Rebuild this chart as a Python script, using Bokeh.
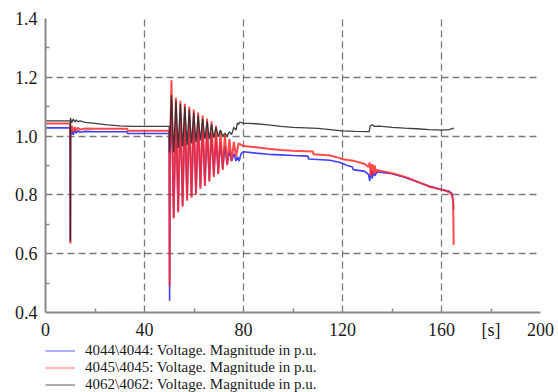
from bokeh.plotting import figure
from bokeh.layouts import column
from bokeh.models import FixedTicker, Legend, LegendItem, Range1d
from bokeh.embed import file_html
from bokeh.resources import INLINE

# ---- data ----
t_blue = [0, 10, 10.05, 10.1, 10.6, 11.2, 11.8, 12.4, 13.0, 14, 16, 20, 25, 33, 33.2, 40, 50, 50.15, 50.3,
          50.9, 51.8, 52.7, 53.6, 54.5, 55.4, 56.3, 57.2, 58.1, 59.0, 59.9, 60.8, 61.7, 62.6, 63.5, 64.4,
          65.3, 66.2, 67.1, 68.0, 68.9, 69.8, 70.7, 71.6, 72.5, 73.4, 74.3, 75.2, 76.1, 77.0,
          77.6, 78.2, 79, 80, 85, 90, 95, 100, 106, 106.3, 115, 119, 120, 122, 124, 124.3, 129, 130.5,
          131, 131.5, 132, 132.5, 133, 134, 135, 140, 145, 150, 155, 160, 163, 164.2, 164.7, 164.9]
v_blue = [1.028, 1.028, 0.64, 1.0, 1.02, 1.005, 1.02, 1.01, 1.018, 1.013, 1.016, 1.015, 1.015, 1.015, 1.009, 1.009, 1.009, 0.44, 0.90,
          1.12, 0.725, 1.09, 0.745, 1.08, 0.765, 1.07, 0.785, 1.06, 0.795, 1.05, 0.805, 1.04, 0.825, 1.03, 0.835,
          1.02, 0.85, 1.01, 0.865, 0.995, 0.875, 0.98, 0.89, 0.965, 0.905, 0.95, 0.915, 0.94, 0.915,
          0.93, 0.915, 0.94, 0.947, 0.942, 0.938, 0.936, 0.934, 0.932, 0.922, 0.918, 0.91, 0.907, 0.90, 0.895, 0.886, 0.88, 0.87,
          0.848, 0.885, 0.855, 0.88, 0.865, 0.878, 0.877, 0.872, 0.86, 0.845, 0.83, 0.818, 0.813, 0.805, 0.78, 0.75]

t_red = [0, 10, 10.05, 10.1, 10.6, 11.2, 11.8, 12.4, 13.0, 14, 16, 20, 25, 33, 33.2, 40, 50, 50.15, 50.3,
         50.9, 51.8, 52.7, 53.6, 54.5, 55.4, 56.3, 57.2, 58.1, 59.0, 59.9, 60.8, 61.7, 62.6, 63.5, 64.4,
         65.3, 66.2, 67.1, 68.0, 68.9, 69.8, 70.7, 71.6, 72.5, 73.4, 74.3, 75.2, 76.1, 77.0,
         78, 80, 85, 90, 95, 100, 108, 108.3, 115, 119, 120, 125, 129, 130.5, 131, 131.5, 132, 132.5,
         133, 133.5, 134, 135, 140, 145, 150, 155, 160, 163, 164.2, 164.7, 164.9]
v_red = [1.043, 1.043, 0.635, 1.005, 1.035, 1.015, 1.03, 1.02, 1.028, 1.022, 1.026, 1.025, 1.025, 1.025, 1.018, 1.018, 1.018, 0.49, 0.95,
         1.19, 0.72, 1.13, 0.74, 1.12, 0.76, 1.11, 0.78, 1.10, 0.79, 1.09, 0.80, 1.08, 0.82, 1.07, 0.83,
         1.06, 0.845, 1.05, 0.86, 1.035, 0.87, 1.02, 0.885, 1.005, 0.90, 0.99, 0.915, 0.98, 0.93,
         0.975, 0.966, 0.962, 0.957, 0.953, 0.95, 0.948, 0.938, 0.934, 0.925, 0.921, 0.915, 0.905, 0.895, 0.91, 0.865, 0.905, 0.87,
         0.90, 0.875, 0.885, 0.882, 0.874, 0.862, 0.846, 0.828, 0.818, 0.81, 0.80, 0.78, 0.63]

t_black = [0, 10, 10.05, 10.1, 10.6, 11.2, 11.8, 12.4, 13.0, 14, 16, 20, 25, 30, 35, 50, 50.1,
           50.9, 51.8, 52.7, 53.6, 54.5, 55.4, 56.3, 57.2, 58.1, 59.0, 59.9, 60.8, 61.7, 62.6, 63.5, 64.4,
           65.3, 66.2, 67.1, 68.0, 68.9, 69.8, 70.7, 71.6, 72.5, 73.4, 74.3, 75.2, 76.1, 77.0,
           77.5, 78, 78.5, 80, 82, 85, 90, 95, 100, 105, 110, 115, 120, 125, 130, 130.8, 131.2, 132, 133,
           135, 140, 145, 150, 155, 160, 163, 165]
v_black = [1.052, 1.052, 0.645, 1.062, 1.045, 1.058, 1.048, 1.055, 1.049, 1.052, 1.047, 1.043, 1.038, 1.035, 1.033, 1.033, 0.945,
           1.14, 0.945, 1.12, 0.96, 1.11, 0.965, 1.10, 0.97, 1.09, 0.975, 1.08, 0.98, 1.07, 0.985, 1.06, 0.99,
           1.05, 0.99, 1.04, 0.995, 1.03, 0.998, 1.02, 1.0, 1.01, 1.0, 1.015, 1.005, 1.03, 1.02,
           1.045, 1.04, 1.048, 1.043, 1.043, 1.042, 1.038, 1.033, 1.03, 1.028, 1.026, 1.022, 1.018, 1.016, 1.015, 1.015, 1.035, 1.038, 1.033,
           1.034, 1.03, 1.027, 1.025, 1.022, 1.02, 1.022, 1.027]

labels = ["4044\\4044: Voltage. Magnitude in p.u.",
          "4045\\4045: Voltage. Magnitude in p.u.",
          "4062\\4062: Voltage. Magnitude in p.u."]

x_ticks = [0, 40, 80, 120, 160, 180, 200]
x_tick_labels = ["0", "40", "80", "120", "160", "[s]", "200"]
y_ticks = [0.4, 0.6, 0.8, 1.0, 1.2, 1.4]
y_tick_labels = ["0.4", "0.6", "0.8", "1.0", "1.2", "1.4"]

FONT = "'Liberation Serif', serif"

p = figure(frame_width=495, frame_height=294,
           x_range=Range1d(0, 200), y_range=Range1d(0.4, 1.4),
           output_backend="svg", toolbar_location=None,
           min_border_left=45, min_border_right=18, min_border_top=18, min_border_bottom=0)
p.outline_line_color = None
p.background_fill_color = "white"
p.border_fill_color = "white"

# grid
for g, ticks in ((p.xgrid, [40, 80, 120, 160, 200]), (p.ygrid, [0.6, 0.8, 1.0, 1.2, 1.4])):
    g.ticker = FixedTicker(ticks=ticks)
    g.grid_line_color = "#7a7a7a"
    g.grid_line_width = 1.3
    g.grid_line_dash = "7 4"

# axes
xa = p.xaxis[0]
xa.ticker = FixedTicker(ticks=x_ticks, minor_ticks=[20, 60, 100, 140, 180])
xa.major_label_overrides = {t: l for t, l in zip(x_ticks, x_tick_labels)}
ya = p.yaxis[0]
ya.ticker = FixedTicker(ticks=y_ticks, minor_ticks=[0.5, 0.7, 0.9, 1.1, 1.3])
ya.major_label_overrides = {t: l for t, l in zip(y_ticks, y_tick_labels)}
for a in (xa, ya):
    a.axis_line_color = "#8a8a8a"
    a.axis_line_width = 2
    a.major_tick_line_color = None
    a.major_tick_out = 0
    a.major_tick_in = 0
    a.minor_tick_line_color = "#8a8a8a"
    a.minor_tick_line_width = 1.5
    a.minor_tick_in = 4
    a.minor_tick_out = 0
    a.major_label_text_font = FONT
    a.major_label_text_font_size = "18px"
    a.major_label_text_color = "#1a1a1a"
xa.major_label_standoff = 7
ya.major_label_standoff = 8

# series
p.line(t_blue, v_blue, line_color="#2a2aff", line_width=1.6, line_alpha=0.9)
p.line(t_red, v_red, line_color="#ff2a2a", line_width=2.0, line_alpha=0.85)
p.line(t_black, v_black, line_color="#2a2a2a", line_width=1.3, line_alpha=0.9)

# legend strip under the chart (its own ranges keep the series out of view)
q = figure(width=558, height=51, x_range=Range1d(-20, -10), y_range=Range1d(0, 1),
           output_backend="svg", toolbar_location=None,
           min_border_left=0, min_border_right=0, min_border_top=0, min_border_bottom=0)
q.axis.visible = False
q.grid.visible = False
q.outline_line_color = None
q.border_fill_color = "white"
l_blue = q.line(t_blue, v_blue, line_color="#9a9aff", line_width=1.6)
l_red = q.line(t_red, v_red, line_color="#ffa8a8", line_width=1.6)
l_black = q.line(t_black, v_black, line_color="#9a9a9a", line_width=1.6)

legend = Legend(items=[LegendItem(label=labels[0], renderers=[l_blue]),
                       LegendItem(label=labels[1], renderers=[l_red]),
                       LegendItem(label=labels[2], renderers=[l_black])],
                location="top_left")
legend.padding = 0
legend.margin = 0
legend.spacing = 0
legend.border_line_color = None
legend.background_fill_alpha = 0
legend.glyph_width = 30
legend.glyph_height = 17
legend.label_height = 17
legend.label_standoff = 10
legend.label_text_font = FONT
legend.label_text_font_size = "15px"
legend.label_text_color = "#1a1a1a"
q.add_layout(legend, "center")

layout = column(p, q, spacing=0)
open("out.html", "w").write(file_html(layout, INLINE))
